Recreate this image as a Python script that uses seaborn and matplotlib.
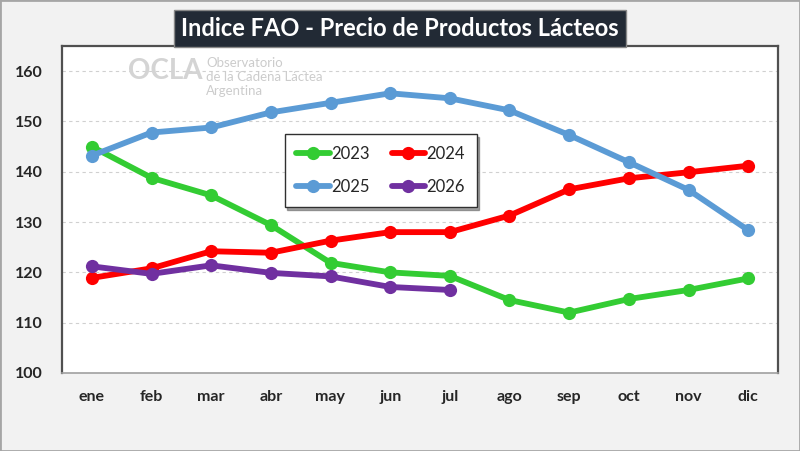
import pandas as pd
import matplotlib.pyplot as plt
import seaborn as sns

# Values
months = ["ene", "feb", "mar", "abr", "may", "jun", "jul", "ago", "sep", "oct", "nov", "dic"]
v2023 = [145.0, 138.8, 135.3, 129.4, 121.9, 120.0, 119.3, 114.5, 112.0, 114.7, 116.5, 118.8]
v2024 = [118.9, 120.8, 124.2, 123.9, 126.3, 128.0, 128.0, 131.3, 136.5, 138.7, 139.9, 141.2]
v2025 = [143.2, 147.8, 148.8, 151.8, 153.7, 155.6, 154.6, 152.2, 147.3, 141.9, 136.4, 128.4]
v2026 = [121.2, 119.7, 121.4, 119.9, 119.2, 117.1, 116.5]
years = ["2023", "2024", "2025", "2026"]
colors = ["#33cc33", "#ff0000", "#5b9bd5", "#7030a0"]

rows = []
for year, vals in zip(years, [v2023, v2024, v2025, v2026]):
    for i, v in enumerate(vals):
        rows.append({"mes": i, "valor": v, "anio": year})
df = pd.DataFrame(rows)

sns.set_style("white")
plt.rcParams["font.family"] = ["Lato", "DejaVu Sans"]

fig = plt.figure(figsize=(8, 4.51), dpi=100, facecolor="#f2f2f2")
ax = fig.add_axes([0.0775, 0.173, 0.895, 0.725])
ax.set_facecolor("white")

sns.lineplot(data=df, x="mes", y="valor", hue="anio", palette=colors,
             marker="o", markersize=9.5, linewidth=4.2, markeredgewidth=0, ax=ax)

ax.set_xlim(-0.5, 11.5)
ax.set_ylim(100, 165)
ax.set_xticks(range(12))
ax.set_xticklabels(months)
ax.set_xticks([i + 0.5 for i in range(11)], minor=True)
ax.set_yticks(range(100, 161, 10))
ax.tick_params(axis="x", which="major", length=0, pad=12, labelsize=11.5)
ax.tick_params(axis="x", which="minor", length=4, direction="in", color="#a0a0a0")
ax.tick_params(axis="y", length=0, pad=14, labelsize=11.5)
for lab in ax.get_xticklabels() + ax.get_yticklabels():
    lab.set_fontweight("bold")
ax.grid(axis="y", linestyle=(0, (3, 3)), color="#d0d0d0", linewidth=0.8)
ax.set_xlabel("")
ax.set_ylabel("")

for side in ["left", "top", "right"]:
    ax.spines[side].set_color("#505050")
    ax.spines[side].set_linewidth(1.6)
ax.spines["bottom"].set_color("#a0a0a0")
ax.spines["bottom"].set_linewidth(1.2)

# legend rows: 2023 2024 / 2025 2026 (matplotlib fills columns first)
handles, labels = ax.get_legend_handles_labels()
order = [0, 2, 1, 3]
leg = ax.legend([handles[i] for i in order], [labels[i] for i in order],
                loc="upper left", bbox_to_anchor=(0.311, 0.731), borderaxespad=0,
                ncol=2, frameon=True, shadow=True, fancybox=False, fontsize=12,
                handlelength=2.0, handletextpad=0.1, columnspacing=1.3,
                labelspacing=1.05, borderpad=0.7)
leg.get_frame().set_edgecolor("#303030")
leg.get_frame().set_linewidth(1.0)

# Watermark
fig.text(0.16, 0.825, "OCLA", fontsize=20, fontweight="bold", color="#d4d4d4")
fig.text(0.258, 0.851, "Observatorio", fontsize=9.5, color="#cccccc")
fig.text(0.258, 0.820, "de la Cadena Láctea", fontsize=9.5, color="#cccccc")
fig.text(0.258, 0.789, "Argentina", fontsize=9.5, color="#cccccc")

fig.text(0.5, 0.937, "Indice FAO - Precio de Productos Lácteos", ha="center", va="center",
         fontsize=17, fontweight="bold", color="white",
         bbox=dict(boxstyle="square,pad=0.3", facecolor="#222a35", edgecolor="#888888"))

fig.patches.append(plt.Rectangle((0, 0), 1, 1, transform=fig.transFigure,
                                 fill=False, edgecolor="#a6a6a6", linewidth=2))

plt.savefig("out.png", dpi=100, facecolor=fig.get_facecolor())
